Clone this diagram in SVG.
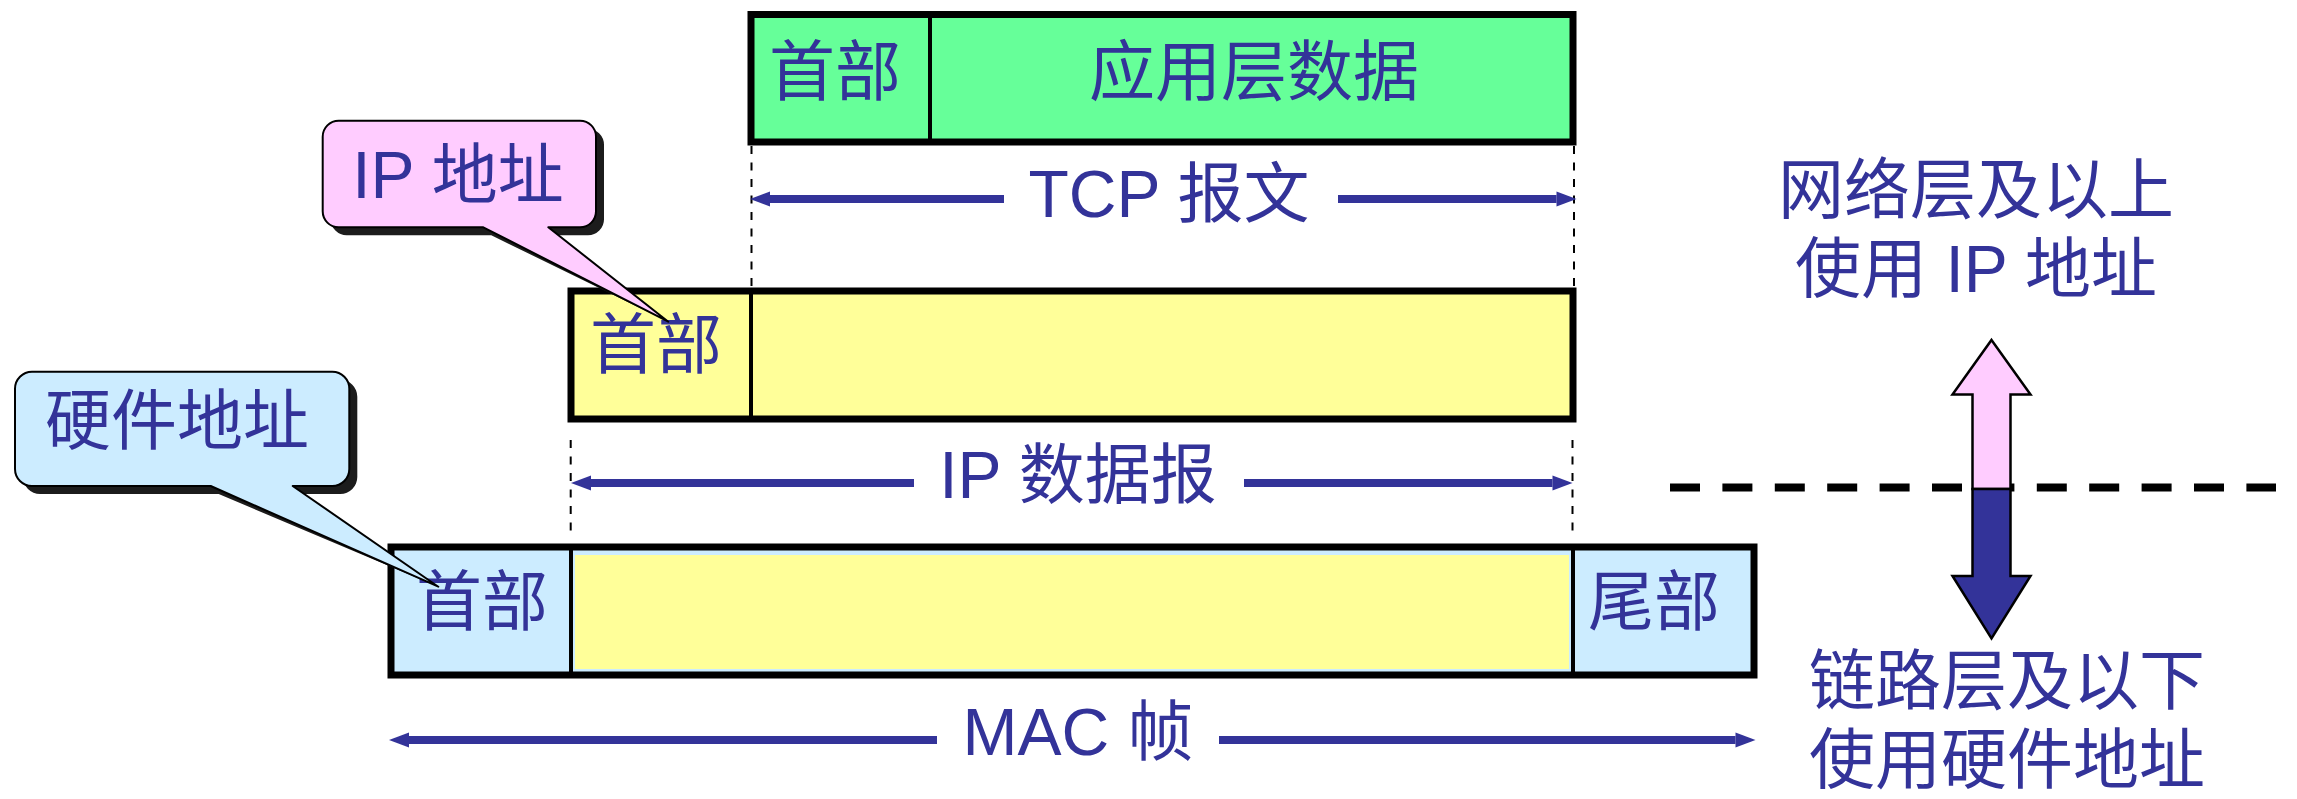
<svg xmlns="http://www.w3.org/2000/svg" width="2297" height="799" viewBox="0 0 2297 799">
<style>
.t{font-family:"Liberation Sans","Noto Sans CJK SC",sans-serif;font-size:66px;fill:#333399;text-anchor:middle}
.box{stroke:#000;stroke-width:7}
.div{stroke:#000;stroke-width:4}
.green{fill:#66FF99}
.yellow{fill:#FFFF99}
.lblue{fill:#CCECFF}
.pink{fill:#FFCCFF}
.call{stroke:#000;stroke-width:2;stroke-linejoin:round}
.shadow{fill:#1C1C1C}
.arr{stroke:#333399;stroke-width:8;fill:none}
.vdash{stroke:#000;stroke-width:2;stroke-dasharray:8 8.5;fill:none}
.bigarrow{stroke:#000;stroke-width:2.5;stroke-linejoin:miter}
</style>
<defs>
<marker id="ah" markerUnits="userSpaceOnUse" markerWidth="20" markerHeight="15" refX="0" refY="7.5" orient="auto-start-reverse" overflow="visible">
<path d="M0,0 L20,7.5 L0,15 Z" fill="#333399"/>
</marker>
</defs>
<rect width="2297" height="799" fill="#fff"/>

<g id="tcp-segment">
<rect class="box green" x="751" y="14.5" width="822" height="127.5"/>
<line class="div" x1="930" y1="18" x2="930" y2="139"/>
<text class="t" x="835" y="95">首部</text>
<text class="t" x="1254" y="95">应用层数据</text>
</g>

<g id="ip-datagram">
<rect class="box yellow" x="571" y="291" width="1002" height="128"/>
<line class="div" x1="751" y1="294" x2="751" y2="416"/>
<text class="t" x="656" y="368">首部</text>
</g>

<g id="mac-frame">
<rect class="box lblue" x="391" y="547" width="1363" height="128"/>
<rect class="yellow" x="575" y="555" width="994" height="114"/>
<line class="div" x1="571" y1="550" x2="571" y2="672"/>
<line class="div" x1="1573" y1="550" x2="1573" y2="672"/>
<text class="t" x="482" y="625">首部</text>
<text class="t" x="1654" y="625">尾部</text>
</g>

<g id="connectors">
<line class="vdash" x1="751.5" y1="146" x2="751.5" y2="288"/>
<line class="vdash" x1="1574" y1="146" x2="1574" y2="288"/>
<line class="vdash" x1="570.7" y1="440" x2="570.7" y2="537"/>
<line class="vdash" x1="1572.5" y1="440" x2="1572.5" y2="537"/>
<line class="arr" x1="770" y1="199" x2="1004" y2="199" marker-start="url(#ah)"/>
<line class="arr" x1="1338" y1="199" x2="1556.5" y2="199" marker-end="url(#ah)"/>
<line class="arr" x1="591" y1="483" x2="914" y2="483" marker-start="url(#ah)"/>
<line class="arr" x1="1244" y1="483" x2="1552.5" y2="483" marker-end="url(#ah)"/>
<line class="arr" x1="409" y1="740" x2="937" y2="740" marker-start="url(#ah)"/>
<line class="arr" x1="1219" y1="740" x2="1735.5" y2="740" marker-end="url(#ah)"/>
</g>

<g id="labels">
<text class="t" x="1169" y="217">TCP 报文</text>
<text class="t" x="1078" y="498">IP 数据报</text>
<text class="t" x="1078" y="755">MAC 帧</text>
</g>

<g id="callout-ip">
<path class="shadow" d="M346.7,128.7 H588 A16,16 0 0 1 604,144.7 V219.3 A16,16 0 0 1 588,235.3 H556.3 L668.3,321.7 L491.3,235.3 H346.7 A16,16 0 0 1 330.7,219.3 V144.7 A16,16 0 0 1 346.7,128.7 Z"/>
<path class="call pink" d="M338.7,120.7 H580 A16,16 0 0 1 596,136.7 V211.3 A16,16 0 0 1 580,227.3 H548.3 L668.3,321.7 L483.3,227.3 H338.7 A16,16 0 0 1 322.7,211.3 V136.7 A16,16 0 0 1 338.7,120.7 Z"/>
<text class="t" x="458" y="198">IP 地址</text>
</g>

<g id="callout-hw">
<path class="shadow" d="M40,379.7 H340.3 A17,17 0 0 1 357.3,396.7 V477 A17,17 0 0 1 340.3,494 H300.7 L438.3,586.7 L218.7,494 H40 A17,17 0 0 1 23,477 V396.7 A17,17 0 0 1 40,379.7 Z"/>
<path class="call lblue" d="M32,371.7 H332.3 A17,17 0 0 1 349.3,388.7 V469 A17,17 0 0 1 332.3,486 H292.7 L438.3,586.7 L210.7,486 H32 A17,17 0 0 1 15,469 V388.7 A17,17 0 0 1 32,371.7 Z"/>
<text class="t" x="177" y="444">硬件地址</text>
</g>

<g id="layer-divider">
<line x1="1670" y1="487.5" x2="2276" y2="487.5" stroke="#000" stroke-width="8" stroke-dasharray="30 22.4"/>
</g>

<g id="layer-arrow">
<polygon class="bigarrow pink" points="1991.5,340 2030.5,394.5 2010.5,394.5 2010.5,489 1972.5,489 1972.5,394.5 1952.5,394.5"/>
<polygon class="bigarrow" fill="#333399" points="1972.5,489 2010.5,489 2010.5,576 2030.5,576 1991.5,638.5 1952.5,576 1972.5,576"/>
</g>

<g id="upper-note">
<text class="t" x="1976" y="213">网络层及以上</text>
<text class="t" x="1976" y="292">使用 IP 地址</text>
</g>

<g id="lower-note">
<text class="t" x="2007" y="704">链路层及以下</text>
<text class="t" x="2007" y="783">使用硬件地址</text>
</g>
</svg>
